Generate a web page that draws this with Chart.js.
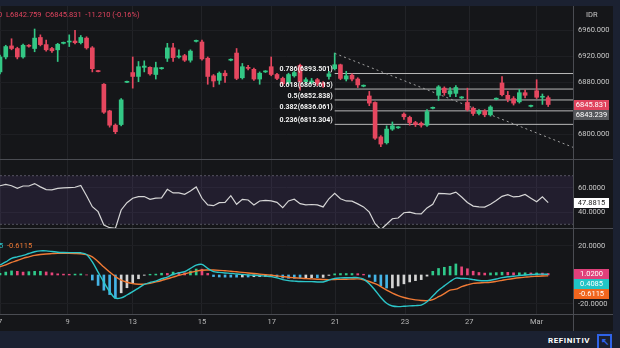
<!DOCTYPE html>
<html>
<head>
<meta charset="utf-8">
<script src="https://cdn.jsdelivr.net/npm/chart.js@4/dist/chart.umd.min.js"></script>
<style>
  html, body { margin: 0; padding: 0; width: 620px; height: 348px; overflow: hidden; background: #1b2131; font-family: Roboto, "Noto Sans", sans-serif; }
  #panel { position: absolute; left: 0; top: 6px; width: 613px; height: 325px; background: #151619; }
  canvas { position: absolute; left: 0; }
  .hl { position: absolute; left: 0; width: 613px; height: 1px; background: #4a4c52; }
  .vl { position: absolute; left: 573px; top: 6px; width: 1px; height: 325px; background: #4a4c52; }
  .txt { position: absolute; white-space: nowrap; font-size: 7.5px; line-height: 10px; }
  #logo { position: absolute; left: 597px; top: 334px; width: 11px; height: 14px; border: 2px solid #2f63e8; border-bottom: none; color: #2f63e8; font-size: 10px; line-height: 11px; text-align: center; font-weight: bold; }
</style>
</head>
<body>
<div id="panel"></div>
<canvas id="price" width="613" height="153" style="top:6px"></canvas>
<canvas id="rsi" width="613" height="68" style="top:160px"></canvas>
<canvas id="macd" width="613" height="102" style="top:229px"></canvas>
<div class="hl" style="top:159px"></div>
<div class="hl" style="top:228px"></div>
<div class="hl" style="top:314px"></div>
<div class="vl"></div>

<div class="txt" style="left:-2px;top:10px;color:#e0445e">0</div>
<div class="txt" style="left:6px;top:10px;color:#e0445e">L6842.759&nbsp;&nbsp;C6845.831&nbsp;&nbsp;-11.210 (-0.16%)</div>
<div class="txt" style="left:586px;top:10px;color:#c8c8c8">IDR</div>
<div class="txt" style="left:-1px;top:241px;color:#2cc6c9">5</div>
<div class="txt" style="left:7px;top:241px;color:#f07a35">-0.6115</div>
<div class="txt" style="left:548px;top:336px;color:#fff;font-weight:bold;font-size:8px;letter-spacing:0.6px">REFINITIV</div>
<div id="logo">&#8598;</div>

<script>
const XMAX = 99.3
const tickIdx = [0, 11.7, 23, 35, 47.1, 58.1, 70.2, 81.3, 93]
const dateLabels = ["7", "9", "13", "15", "17", "21", "23", "27", "Mar"]

const opens = [
  6896, 6919, 6936, 6932, 6919, 6937, 6932, 6949, 6938, 6932,
  6930, 6940, 6942, 6943.5, 6941, 6948, 6933, 6898, 6877, 6836,
  6814, 6815, 6880, 6895, 6889, 6903, 6903, 6892, 6901, 6917,
  6933, 6919, 6921, 6914, 6943, 6942, 6917, 6890, 6883, 6894,
  6914, 6925, 6887, 6903, 6900, 6885, 6896, 6904, 6892, 6886,
  6879, 6890, 6906, 6881, 6880, 6884, 6878, 6889, 6901, 6907,
  6885, 6891, 6885, 6874, 6859, 6849, 6796, 6787, 6808, 6810,
  6831, 6826, 6818, 6817, 6814, 6840, 6860, 6871, 6862, 6863,
  6856, 6849, 6840, 6832, 6836, 6830, 6854, 6879, 6860, 6855,
  6850, 6864, 6843, 6867, 6857, 6856.3
]
const closes = [
  6919, 6935, 6932, 6919, 6937, 6935.5, 6948, 6938, 6930, 6928.5,
  6938.5, 6941.5, 6943.5, 6941, 6949, 6933, 6901, 6896.5, 6834, 6814,
  6804, 6853, 6881.5, 6889, 6904, 6905, 6893, 6902.5, 6902.5, 6933,
  6918, 6920.5, 6914, 6928, 6944.5, 6916, 6889, 6882, 6894, 6890,
  6915.5, 6886, 6904, 6901.5, 6885, 6894, 6897.5, 6892, 6886, 6878,
  6892, 6895, 6881, 6884, 6882, 6878, 6876, 6893, 6907, 6886,
  6890, 6885, 6876, 6875.5, 6848, 6794, 6785, 6808, 6813, 6811.5,
  6827, 6818, 6815, 6814, 6835, 6841.5, 6873, 6864, 6867, 6872,
  6857.5, 6838, 6832, 6836, 6830, 6842, 6855.5, 6861, 6854, 6848,
  6864, 6860, 6844.5, 6857, 6858.5, 6845.831
]
const highs = [
  6922, 6937, 6947, 6934, 6939, 6938, 6962, 6953, 6945, 6934,
  6940, 6942, 6953, 6960, 6952, 6950, 6935, 6898.5, 6878, 6837,
  6816, 6855, 6882, 6919, 6912, 6913, 6904, 6911, 6903, 6940,
  6940, 6930, 6923, 6930, 6945, 6945, 6919, 6892, 6896, 6898,
  6916, 6932, 6909, 6906, 6902, 6896, 6898, 6919, 6894, 6888,
  6894, 6897, 6908, 6887, 6886, 6886, 6881, 6897, 6925, 6908,
  6897, 6893, 6887, 6876, 6866, 6850, 6798, 6813, 6819, 6812,
  6833, 6828, 6820, 6819, 6838, 6842, 6875, 6873, 6872, 6875,
  6858, 6871, 6842, 6838, 6838, 6844, 6856, 6889, 6866, 6858,
  6869, 6868, 6845, 6884, 6862, 6859
]
const lows = [
  6893, 6916, 6930, 6916, 6917, 6934, 6927, 6936, 6928, 6926,
  6912, 6939, 6935, 6939, 6939, 6931, 6896, 6896, 6832, 6811,
  6801, 6813, 6879.5, 6871, 6881, 6896, 6891, 6885, 6900, 6912,
  6912, 6917, 6912, 6911, 6942, 6914, 6877, 6873, 6877, 6880,
  6913, 6884, 6885, 6899, 6883, 6877, 6895, 6890, 6884, 6875,
  6877, 6888, 6868, 6878, 6878, 6875, 6872, 6885, 6899, 6884,
  6882, 6882, 6872, 6873, 6844, 6792, 6781, 6785, 6806, 6809,
  6823, 6814, 6812, 6811, 6812, 6839, 6852, 6860, 6858, 6858,
  6855, 6836, 6829, 6830, 6827, 6828, 6853, 6859, 6850, 6845,
  6848, 6856, 6842, 6855, 6846, 6842.759
]

const fibLevels = ["0.786", "0.618", "0.5", "0.382", "0.236"]
const fibPrices = [6893.501, 6869.615, 6852.838, 6836.061, 6815.304]
const fibStart = 58
const trendLine = [{ x: 58, y: 6924.6 }, { x: 99.3, y: 6780 }]
const lastClose = 6845.831
const avgPrice = 6843.239
const priceTicks = [6800, 6840, 6880, 6920, 6960]

const rsi = [
  61.7, 62.9, 61.7, 59.6, 61.5, 61.5, 63.5, 60.8, 58.6, 58.3,
  59.6, 60.0, 60.2, 60.5, 62.0, 53.5, 44.5, 40.4, 29.4, 27.2,
  26.7, 41.8, 47.8, 51.4, 52.8, 52.8, 50.5, 51.6, 51.8, 58.8,
  55.8, 55.8, 54.7, 57.4, 60.7, 51.4, 45.9, 45.3, 47.8, 48.0,
  53.5, 46.5, 50.5, 50.0, 45.9, 49.2, 49.7, 49.2, 48.0, 43.7,
  49.2, 50.6, 47.0, 46.0, 46.3, 46.0, 44.3, 51.0, 55.5, 51.0,
  49.2, 49.0, 46.8, 44.3, 40.0, 30.5, 25.7, 30.0, 34.6, 35.2,
  39.5, 40.0, 38.8, 38.5, 43.5, 46.5, 55.5, 55.2, 54.9, 56.5,
  52.5, 48.0, 45.0, 44.4, 44.2, 46.5, 49.5, 53.0, 54.4, 52.5,
  53.0, 54.5, 51.5, 48.5, 52.7, 47.8815
]
const rsiUpper = 70
const rsiLower = 30
const rsiTicks = [40, 60]

const macd = [
  6.9, 9.0, 11.5, 12.5, 13.5, 14.8, 16.0, 16.6, 16.6, 16.2,
  15.7, 15.5, 15.4, 15.4, 15.3, 14.1, 9.0, 2.0, -5.0, -11.5,
  -16.0, -15.8, -13.8, -11.5, -9.0, -6.5, -5.2, -4.2, -2.6, -1.5,
  0.5, 1.5, 2.3, 4.5, 6.8, 7.3, 4.5, 2.3, 1.8, 1.4,
  1.1, 0.7, 0.4, 0.0, -0.2, -0.5, -0.8, -1.1, -2.0, -3.2,
  -3.9, -4.2, -4.5, -4.6, -4.6, -4.8, -4.8, -3.5, -2.3, -2.0,
  -1.9, -1.8, -1.8, -2.8, -6.0, -10.5, -15.5, -19.5, -21.4, -21.8,
  -21.6, -21.3, -21.1, -20.8, -18.5, -14.5, -10.5, -7.5, -4.5, -2.2,
  -2.4, -2.5, -3.2, -3.8, -4.0, -3.6, -2.8, -1.8, -1.2, -0.9,
  -0.4, 0.0, 0.3, 0.5, 0.6, 0.4085
]
const signal = [
  5.7, 7.0, 8.7, 10.0, 11.5, 12.5, 13.5, 14.1, 14.5, 14.7,
  14.9, 14.9, 14.9, 14.8, 14.6, 14.0, 12.5, 9.2, 5.5, 2.0,
  -1.1, -3.5, -5.0, -6.0, -6.4, -6.3, -5.7, -4.8, -3.8, -2.6,
  -1.5, -0.3, 0.8, 1.8, 2.7, 3.3, 3.4, 3.4, 3.2, 2.9,
  2.6, 2.2, 1.8, 1.4, 1.0, 0.6, 0.2, -0.2, -0.6, -1.1,
  -1.6, -1.9, -2.2, -2.5, -2.7, -2.9, -3.1, -3.2, -3.1, -3.0,
  -2.9, -2.8, -2.7, -3.3, -4.5, -6.0, -8.0, -10.5, -12.5, -14.2,
  -15.5, -16.5, -17.2, -17.6, -17.7, -17.0, -15.0, -12.8, -10.5, -9.8,
  -8.0, -6.8, -5.8, -5.5, -5.3, -5.0, -4.4, -3.7, -3.0, -2.4,
  -1.9, -1.5, -1.1, -0.9, -0.7, -0.6115
]
const hist = [
  1.2, 2.0, 2.8, 2.5, 2.0, 2.3, 2.5, 2.5, 2.1, 1.5,
  0.8, 0.6, 0.5, 0.6, 0.7, 0.1, -3.5, -7.2, -10.5, -13.5,
  -16.0, -12.3, -8.8, -5.5, -2.6, -0.2, 0.5, 0.6, 1.2, 1.1,
  2.0, 1.8, 1.5, 2.7, 4.1, 4.0, 1.1, -1.1, -1.4, -1.5,
  -1.5, -1.5, -1.4, -1.4, -1.2, -1.1, -1.0, -0.9, -1.4, -2.1,
  -2.3, -2.3, -2.3, -2.1, -1.9, -1.9, -1.7, -0.3, 0.8, 1.0,
  1.0, 1.0, 0.9, 0.5, -1.5, -4.5, -7.5, -9.0, -8.9, -7.6,
  -6.1, -4.8, -3.9, -3.2, -0.8, 2.5, 4.5, 5.3, 6.0, 7.6,
  5.6, 4.3, 2.6, 1.7, 1.3, 1.4, 1.6, 1.9, 1.8, 1.5,
  1.5, 1.5, 1.4, 1.4, 1.3, 1.02
]
const macdTicks = [-20, 20]

const GREEN = "#33c785"
const RED = "#e5475f"

Chart.defaults.font.family = "Roboto, 'Noto Sans', sans-serif"
Chart.defaults.font.size = 7.5
Chart.defaults.color = "#c8c8c8"

const idx = opens.map((_, i) => i)
const candleColors = idx.map(i => closes[i] >= opens[i] ? GREEN : RED)

function xAxis(showLabels) {
  return {
    type: "linear",
    min: 0,
    max: XMAX,
    offset: false,
    afterBuildTicks: s => { s.ticks = tickIdx.map(v => ({ value: v })) },
    afterFit: s => {
      s.paddingLeft = 0
      s.paddingRight = 0
      if (showLabels) s.height = 17
    },
    ticks: {
      display: showLabels,
      autoSkip: false,
      maxRotation: 0,
      padding: 4,
      color: "#b8b8b8",
      callback: (v, i) => dateLabels[i]
    },
    grid: { color: "#222327", drawTicks: false, offset: false },
    border: { display: false }
  }
}

function yAxis(min, max, ticks, digits) {
  return {
    position: "right",
    min,
    max,
    afterBuildTicks: s => { s.ticks = ticks.map(v => ({ value: v })) },
    afterFit: s => {
      s.width = 40
      s.paddingTop = 0
      s.paddingBottom = 0
    },
    ticks: { padding: 5, color: "#c8c8c8", callback: v => v.toFixed(digits) },
    grid: { color: "#1e1f23", drawTicks: false },
    border: { display: false }
  }
}

function tagPlugin(tags) {
  return {
    id: "tags",
    afterDraw(chart) {
      const ctx = chart.ctx
      const left = chart.chartArea.right + 1
      let prev = -Infinity
      ctx.save()
      ctx.font = "7.5px Roboto, 'Noto Sans', sans-serif"
      ctx.textAlign = "center"
      ctx.textBaseline = "middle"
      tags.forEach(t => {
        let py = chart.scales.y.getPixelForValue(t.value)
        if (py < prev + 10) py = prev + 10
        prev = py
        ctx.fillStyle = t.bg
        ctx.fillRect(left, Math.round(py) - 5, 35, 10)
        ctx.fillStyle = t.fg
        ctx.fillText(t.text, left + 17.5, py + 0.5)
      })
      ctx.restore()
    }
  }
}

const options = (x, y) => ({
  responsive: false,
  animation: false,
  devicePixelRatio: 1,
  layout: { padding: 0 },
  plugins: { legend: { display: false }, tooltip: { enabled: false } },
  scales: { x, y }
})

// price pane
const fibDatasets = fibPrices.map(p => ({
  type: "line",
  data: [{ x: fibStart, y: p }, { x: XMAX, y: p }],
  borderColor: "#b9b9b9",
  borderWidth: 1,
  pointRadius: 0,
  order: 5
}))

new Chart(document.getElementById("price"), {
  type: "bar",
  data: {
    datasets: [
      ...fibDatasets,
      {
        type: "line",
        data: trendLine,
        borderColor: "#a0a0a0",
        borderWidth: 1,
        borderDash: [2, 3],
        pointRadius: 0,
        order: 4
      },
      {
        data: idx.map(i => ({ x: i, y: [lows[i], highs[i]] })),
        backgroundColor: candleColors,
        barThickness: 1,
        grouped: false,
        order: 2
      },
      {
        data: idx.map(i => ({ x: i, y: [opens[i], closes[i]] })),
        backgroundColor: candleColors,
        barThickness: 4,
        grouped: false,
        order: 1
      }
    ]
  },
  options: options(xAxis(false), yAxis(6762, 6997.4, priceTicks, 3)),
  plugins: [
    {
      id: "fibLabels",
      afterDatasetsDraw(chart) {
        const ctx = chart.ctx
        const x = chart.scales.x.getPixelForValue(fibStart) - 2
        ctx.save()
        ctx.font = "bold 7px Roboto, 'Noto Sans', sans-serif"
        ctx.fillStyle = "#f2f2f2"
        ctx.textAlign = "right"
        ctx.textBaseline = "middle"
        fibPrices.forEach((p, i) => {
          ctx.fillText(fibLevels[i] + "(" + p.toFixed(3) + ")", x, chart.scales.y.getPixelForValue(p) - 4)
        })
        ctx.restore()
      }
    },
    tagPlugin([
      { value: lastClose, text: lastClose.toFixed(3), bg: "#e0445e", fg: "#ffffff" },
      { value: avgPrice, text: avgPrice.toFixed(3), bg: "#56585c", fg: "#ffffff" }
    ])
  ]
})

// RSI pane
new Chart(document.getElementById("rsi"), {
  type: "line",
  data: {
    datasets: [
      {
        data: [{ x: 0, y: rsiUpper }, { x: XMAX, y: rsiUpper }],
        borderColor: "#55555f",
        borderWidth: 1,
        borderDash: [2, 2],
        pointRadius: 0,
        order: 3
      },
      {
        data: [{ x: 0, y: rsiLower }, { x: XMAX, y: rsiLower }],
        borderColor: "#55555f",
        borderWidth: 1,
        borderDash: [2, 2],
        pointRadius: 0,
        fill: "-1",
        backgroundColor: "rgba(126, 87, 194, 0.13)",
        order: 2
      },
      {
        data: idx.map(i => ({ x: i, y: rsi[i] })),
        borderColor: "#d6d6d6",
        borderWidth: 1.2,
        pointRadius: 0,
        order: 1
      }
    ]
  },
  options: options(xAxis(false), yAxis(26.95, 82.9, rsiTicks, 4)),
  plugins: [
    tagPlugin([{ value: rsi[rsi.length - 1], text: rsi[rsi.length - 1].toFixed(4), bg: "#ffffff", fg: "#222222" }])
  ]
})

// MACD pane
const histColors = hist.map((v, i) => {
  const prev = i > 0 ? hist[i - 1] : v
  if (v >= 0) return v >= prev ? "#2fc98a" : "#e8457a"
  return v <= prev ? "#45b4e6" : "#d4d4d4"
})

new Chart(document.getElementById("macd"), {
  type: "bar",
  data: {
    datasets: [
      {
        type: "line",
        data: idx.map(i => ({ x: i, y: macd[i] })),
        borderColor: "#2cc6c9",
        borderWidth: 1.4,
        pointRadius: 0,
        tension: 0.3,
        order: 1
      },
      {
        type: "line",
        data: idx.map(i => ({ x: i, y: signal[i] })),
        borderColor: "#f07a35",
        borderWidth: 1.4,
        pointRadius: 0,
        tension: 0.3,
        order: 2
      },
      {
        data: idx.map(i => ({ x: i, y: hist[i] })),
        backgroundColor: histColors,
        barThickness: 2,
        grouped: false,
        order: 3
      }
    ]
  },
  options: options(xAxis(true), yAxis(-26.9, 31.7, macdTicks, 4)),
  plugins: [
    tagPlugin([
      { value: hist[hist.length - 1], text: hist[hist.length - 1].toFixed(4), bg: "#e0407a", fg: "#ffffff" },
      { value: macd[macd.length - 1], text: macd[macd.length - 1].toFixed(4), bg: "#22c4c6", fg: "#ffffff" },
      { value: signal[signal.length - 1], text: signal[signal.length - 1].toFixed(4), bg: "#f0651e", fg: "#ffffff" }
    ])
  ]
})
</script>
</body>
</html>
